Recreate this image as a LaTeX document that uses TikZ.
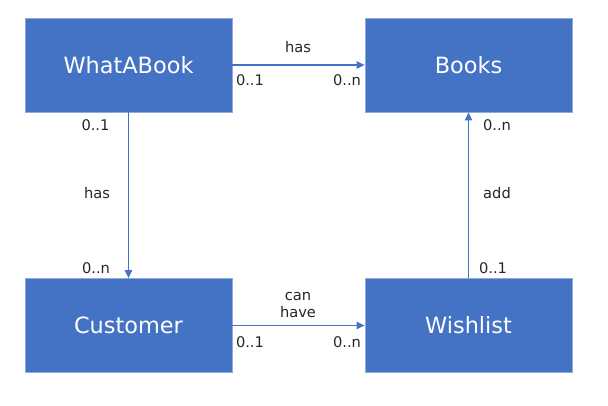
\documentclass[tikz,border=0pt]{standalone}
\usepackage{fontspec}
\setmainfont{DejaVu Sans}
\usetikzlibrary{arrows.meta}
\definecolor{boxblue}{HTML}{4472C4}
\definecolor{boxedge}{HTML}{8FAADC}
\definecolor{txt}{HTML}{262626}
\begin{document}
\begin{tikzpicture}[x=0.75pt,y=-0.75pt,
  entity/.style={draw=boxedge,line width=0.6pt,fill=boxblue,minimum width=155.25pt,minimum height=70.5pt,inner sep=0pt,text=white,font=\fontsize{16.8}{19}\selectfont},
  conn/.style={draw=boxblue,line width=0.9pt,-{Triangle[length=6pt,width=5.5pt]}},
  lab/.style={text=txt,font=\fontsize{11}{12.5}\selectfont,inner sep=0pt,align=center}]
\useasboundingbox (0,0) rectangle (608,406);
\node[entity] (wab) at (128.5,65) {WhatABook};
\node[entity] (books) at (468.5,65) {Books};
\node[entity] (cust) at (128.5,325.5) {Customer};
\node[entity] (wish) at (468.5,325.5) {Wishlist};
\draw[conn] (wab.east) -- (books.west);
\draw[conn] (cust.east) -- (wish.west);
\draw[conn] (wab.south) -- (cust.north);
\draw[conn] (wish.north) -- (books.south);
\node[lab] (l1) at (298,47) {has};
\node[lab] (l2) at (250,80) {0..1};
\node[lab] (l3) at (347,80) {0..n};
\node[lab] (l4) at (95.5,125.5) {0..1};
\node[lab] (l5) at (97,193) {has};
\node[lab] (l6) at (96,268) {0..n};
\node[lab] (l7) at (497,125.5) {0..n};
\node[lab] (l8) at (497,193) {add};
\node[lab] (l9) at (493,268) {0..1};
\node[lab] (l10) at (298,305) {can\\have};
\node[lab] (l11) at (250,342) {0..1};
\node[lab] (l12) at (347,342) {0..n};
\end{tikzpicture}
\end{document}
